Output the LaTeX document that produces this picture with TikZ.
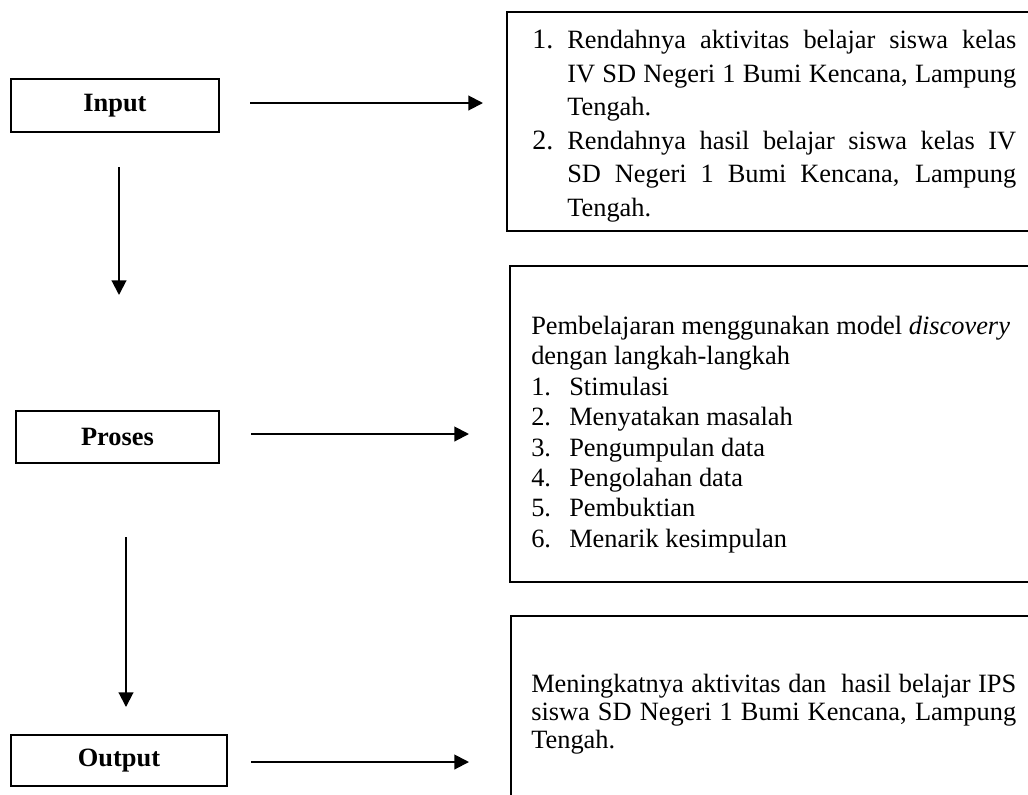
\documentclass[tikz,border=0pt]{standalone}
\usepackage{fontspec}
\setmainfont{Liberation Serif}
\usetikzlibrary{arrows.meta}
\newcommand\justline[2]{\makebox[#1][s]{#2}}
\newcommand\numsz{\fontsize{21pt}{25pt}\selectfont}
\begin{document}
\begin{tikzpicture}[x=0.75pt,y=-0.75pt,
  lbl/.style={draw, line width=1.4pt, inner sep=0pt, font=\fontsize{19.8pt}{23pt}\selectfont\bfseries},
  bigbox/.style={draw, line width=1.3pt, inner sep=0pt},
  arr/.style={line width=1.5pt, -{Triangle[length=11pt,width=11pt]}},
  txt/.style={inner sep=0pt, anchor=north west, align=left}
]
\useasboundingbox (0,0) rectangle (1028,794);
\clip (0,0) rectangle (1028,794);

% left boxes
\node[lbl, minimum width=156pt, minimum height=39.75pt] (input) at (115,105.5) {Input};
\node[lbl, minimum width=152.25pt, minimum height=39pt] (proses) at (117.5,437) {Proses};
\node[lbl, minimum width=162pt, minimum height=38.25pt] (output) at (119,760.5) {Output};

% right boxes
\node[bigbox, minimum width=399.75pt, minimum height=164.25pt] (topbox) at (773.5,121.5) {};
\node[bigbox, minimum width=397.5pt, minimum height=237pt] (midbox) at (775,424) {};
\node[bigbox, minimum width=396.75pt, minimum height=145.5pt] (botbox) at (775.5,713) {};

% texts
\node[txt, font=\fontsize{19.8pt}{25.1pt}\selectfont] (toptext) at (532,30) {%
\makebox[26.25pt][l]{\numsz 1.}\justline{336.75pt}{Rendahnya aktivitas belajar siswa kelas}\\
\hspace*{26.25pt}\justline{336.75pt}{IV SD Negeri 1 Bumi Kencana, Lampung}\\
\hspace*{26.25pt}Tengah.\\
\makebox[26.25pt][l]{\numsz 2.}\justline{336.75pt}{Rendahnya hasil belajar siswa kelas IV}\\
\hspace*{26.25pt}\justline{336.75pt}{SD Negeri 1 Bumi Kencana, Lampung}\\
\hspace*{26.25pt}Tengah.};

\node[txt, font=\fontsize{19.8pt}{22.8pt}\selectfont] (midtext) at (531,316) {%
Pembelajaran menggunakan model \textit{discovery}\\
dengan langkah-langkah\\
\makebox[28.5pt][l]{1.}Stimulasi\\
\makebox[28.5pt][l]{2.}Menyatakan masalah\\
\makebox[28.5pt][l]{3.}Pengumpulan data\\
\makebox[28.5pt][l]{4.}Pengolahan data\\
\makebox[28.5pt][l]{5.}Pembuktian\\
\makebox[28.5pt][l]{6.}Menarik kesimpulan};

\node[txt, font=\fontsize{19.8pt}{21pt}\selectfont] (bottext) at (531,674) {%
\justline{363.75pt}{Meningkatnya aktivitas dan~ hasil belajar IPS}\\
\justline{363.75pt}{siswa SD Negeri 1 Bumi Kencana, Lampung}\\
Tengah.};

% arrow ends
\coordinate (a1s) at (250,103);
\coordinate (a1e) at (483,103);
\coordinate (a2s) at (251,434);
\coordinate (a2e) at (469,434);
\coordinate (a3s) at (251,762);
\coordinate (a3e) at (469,762);
\coordinate (v1s) at (119,167);
\coordinate (v1e) at (119,295);
\coordinate (v2s) at (126,537);
\coordinate (v2e) at (126,707);

\draw[arr] (a1s) -- (a1e);
\draw[arr] (a2s) -- (a2e);
\draw[arr] (a3s) -- (a3e);
\draw[arr] (v1s) -- (v1e);
\draw[arr] (v2s) -- (v2e);
\end{tikzpicture}
\end{document}
